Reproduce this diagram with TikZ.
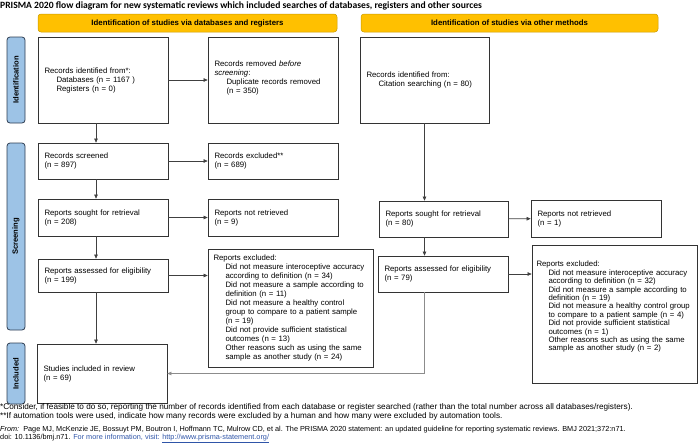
\documentclass[tikz,border=0pt]{standalone}
\usepackage{fontspec}
\setmainfont{Liberation Sans}
\newfontfamily\titlefont{Carlito}
\usetikzlibrary{arrows.meta}

\definecolor{hdryellow}{HTML}{FFC000}
\definecolor{hdrline}{HTML}{C99A00}
\definecolor{sideblue}{HTML}{9DC3E6}
\definecolor{sideline}{HTML}{2E3D52}
\definecolor{linkblue}{HTML}{2F55A8}

\newcommand{\ind}{\hspace*{12pt}}

\begin{document}
\begin{tikzpicture}[x=1pt,y=-1pt,
    box/.style 2 args={draw=black!80, line width=0.7pt, fill=white, align=left,
        inner xsep=6.5pt, inner ysep=2pt, text width=#1, minimum height=#2,
        font=\fontsize{7.8}{9}\selectfont},
    widebox/.style 2 args={box={156pt}{#2}, inner xsep=4.5pt, font=\fontsize{7.8}{#1}\selectfont},
    hdr/.style={draw=hdrline, fill=hdryellow, rounded corners=3pt, line width=0.5pt,
        minimum width=#1, minimum height=18pt, font=\fontsize{7.8}{9}\selectfont\bfseries},
    side/.style={draw=sideline, fill=sideblue, rounded corners=3pt, line width=0.8pt,
        rotate=90, minimum width=#1, minimum height=18pt, inner sep=0pt,
        font=\fontsize{7.6}{9}\selectfont\bfseries},
    arr/.style={draw=black!75, line width=0.6pt, -{Triangle[length=4pt,width=3.5pt]}}]
    \useasboundingbox (0,0) rectangle (700,442);

    % title and column headers
    \node[anchor=west, inner sep=0pt, font=\titlefont\fontsize{9.6}{11}\selectfont\bfseries] (title) at (0,6)
        {PRISMA 2020 flow diagram for new systematic reviews which included searches of databases, registers and other sources};
    \node[hdr=299pt] (hdrA) at (187.5,23) {Identification of studies via databases and registers};
    \node[hdr=297pt] (hdrB) at (509.5,23) {Identification of studies via other methods};

    % stage labels on left
    \foreach \name/\y/\h/\txt in {idlab/80/86/Identification, scrlab/236.5/187/Screening, inclab/373.5/61/Included}{
        \node[side=\h pt] (\name) at (16,\y) {\txt};
    }

    % databases and registers
    \node[box={117pt}{86pt}] (recid) at (103,80)
        {Records identified from*:\\ \ind Databases (n = 1167 )\\ \ind Registers (n = 0)};
    \node[box={117pt}{86pt}, text depth=32pt] (recrem) at (273,80)
        {Records removed \textit{before}\\ \textit{screening}:\\ \ind Duplicate records removed\\ \ind (n = 350)};
    \node[box={117pt}{36pt}] (recscr) at (103,161) {Records screened\\ (n = 897)};
    \node[box={117pt}{36pt}] (recexc) at (273,161) {Records excluded**\\ (n = 689)};
    \node[box={117pt}{37pt}] (sought) at (103,217.5) {Reports sought for retrieval\\ (n = 208)};
    \node[box={117pt}{37pt}] (notret) at (273,217.5) {Reports not retrieved\\ (n = 9)};
    \node[box={117pt}{33pt}] (assess) at (103,275.5) {Reports assessed for eligibility\\ (n = 199)};
    \node[widebox={9}{118pt}, text width=154pt, inner xsep=5.5pt] (repexc) at (290.5,308)
        {Reports excluded:\\
         \ind Did not measure interoceptive accuracy\\ \ind according to definition (n = 34)\\
         \ind Did not measure a sample according to\\ \ind definition (n = 11)\\
         \ind Did not measure a healthy control\\ \ind group to compare to a patient sample\\ \ind (n = 19)\\
         \ind Did not provide sufficient statistical\\ \ind outcomes (n = 13)\\
         \ind Other reasons such as using the same\\ \ind sample as another study (n = 24)};
    \node[box={117pt}{59pt}] (incl) at (102,373.5) {Studies included in review\\ (n = 69)};

    % other methods
    \node[box={116pt}{86pt}] (othid) at (424.5,80)
        {Records identified from:\\ \ind Citation searching (n = 80)};
    \node[box={116pt}{36pt}] (osought) at (443.5,219) {Reports sought for retrieval\\ (n = 80)};
    \node[box={117pt}{37pt}] (onotret) at (596,218.5) {Reports not retrieved\\ (n = 1)};
    \node[box={117pt}{36pt}] (oassess) at (443,274) {Reports assessed for eligibility\\ (n = 79)};
    \node[widebox={8.4}{138pt}, text depth=100pt] (oexc) at (614.5,314)
        {Reports excluded:\\
         \ind Did not measure interoceptive accuracy\\ \ind according to definition (n = 32)\\
         \ind Did not measure a sample according to\\ \ind definition (n = 19)\\
         \ind Did not measure a healthy control group\\ \ind to compare to a patient sample (n = 4)\\
         \ind Did not provide sufficient statistical\\ \ind outcomes (n = 1)\\
         \ind Other reasons such as using the same\\ \ind sample as another study (n = 2)};

    % connectors, left column
    \draw[arr] (recid) -- (recrem);
    \draw[arr] ([xshift=-7pt]recid.south) -- ([xshift=-7pt]recscr.north);
    \draw[arr] (recscr) -- (recexc);
    \draw[arr] ([xshift=-7pt]recscr.south) -- ([xshift=-7pt]sought.north);
    \draw[arr] (sought) -- (notret);
    \draw[arr] ([xshift=-7pt]sought.south) -- ([xshift=-7pt]assess.north);
    \draw[arr] (assess.east) -- (assess.east -| repexc.west);
    \draw[arr] ([xshift=-7pt]assess.south) -- ([xshift=-6pt]incl.north);
    % connectors, right column
    \draw[arr] (othid.south) -- (othid.south |- osought.north);
    \draw[arr] (osought) -- (onotret);
    \draw[arr] (othid.south |- osought.south) -- (othid.south |- oassess.north);
    \draw[arr] (oassess.east) -- (oassess.east -| oexc.west);
    \draw[arr, draw=black!45] (othid.south |- oassess.south) |- (incl.east);

    % notes
    \begin{scope}[every node/.style={anchor=west, inner sep=0pt, font=\fontsize{8.2}{9.5}\selectfont}]
        \node (note1) at (0,407) {*Consider, if feasible to do so, reporting the number of records identified from each database or register searched (rather than the total number across all databases/registers).};
        \node (note2) at (0,416.5) {**If automation tools were used, indicate how many records were excluded by a human and how many were excluded by automation tools.};
    \end{scope}
    \begin{scope}[every node/.style={anchor=west, inner sep=0pt, font=\fontsize{7.3}{8.5}\selectfont}]
        \node (cite1) at (0,430) {\textit{From:}\ \ Page MJ, McKenzie JE, Bossuyt PM, Boutron I, Hoffmann TC, Mulrow CD, et al. The PRISMA 2020 statement: an updated guideline for reporting systematic reviews. BMJ 2021;372:n71.};
        \node (cite2) at (0,438.5) {doi: 10.1136/bmj.n71. \textcolor{linkblue}{For more information, visit: \underline{http://www.prisma-statement.org/}}};
    \end{scope}
\end{tikzpicture}
\end{document}
